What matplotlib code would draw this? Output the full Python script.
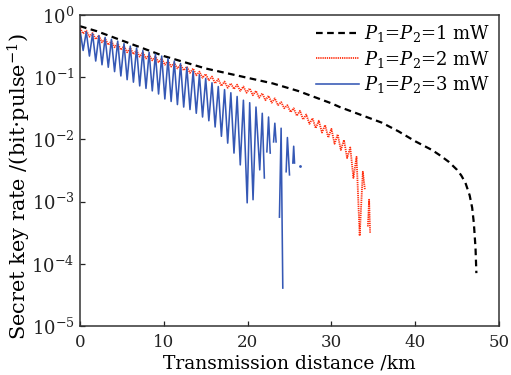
import numpy as np
import matplotlib
matplotlib.use("Agg")
import matplotlib.pyplot as plt
from matplotlib.ticker import LogLocator, LogFormatterMathtext, NullLocator

# ---------------- data (log10 of secret key rate) ----------------
black_km = [0, 1, 2, 3, 4, 5, 6, 7, 8, 9, 10, 11, 12, 13, 14, 15, 16, 17, 18, 19, 20,
            21, 22, 23, 24, 25, 26, 27, 28, 29, 30, 31, 32, 33, 34, 35, 36, 37, 38, 39,
            40, 41, 42, 43, 44, 45, 45.5, 46, 46.5, 46.8, 47.0, 47.2, 47.3]
black_log = [-0.18, -0.22, -0.26, -0.31, -0.36, -0.41, -0.46, -0.51, -0.56, -0.61, -0.66,
             -0.70, -0.74, -0.78, -0.82, -0.86, -0.89, -0.92, -0.95, -0.98, -1.01,
             -1.04, -1.07, -1.10, -1.14, -1.18, -1.22, -1.27, -1.32, -1.37, -1.42,
             -1.48, -1.53, -1.58, -1.63, -1.68, -1.73, -1.80, -1.87, -1.95, -2.03,
             -2.10, -2.17, -2.26, -2.36, -2.49, -2.58, -2.70, -2.90, -3.10, -3.35,
             -3.75, -4.15]

# red (P=2 mW): oscillation peaks and troughs
red_peak_km = [0.0, 0.75, 1.5, 2.25, 3.0, 3.75, 4.5, 5.25, 6.0, 6.75, 7.5, 8.25, 9.0,
               9.75, 10.5, 11.25, 12.0, 12.75, 13.5, 14.25, 15.0, 15.75, 16.5, 17.25,
               18.0, 18.75, 19.5, 20.25, 21.0, 21.75, 22.5, 23.25, 24.0, 24.75, 25.5,
               26.25, 27.0, 27.75, 28.5, 29.25, 30.0, 30.75, 31.5, 32.25, 33.0, 33.75]
red_peak_log = [-0.21, -0.25, -0.29, -0.33, -0.38, -0.42, -0.46, -0.50, -0.53, -0.57,
                -0.60, -0.64, -0.67, -0.70, -0.74, -0.77, -0.80, -0.83, -0.86, -0.91,
                -0.95, -0.99, -1.03, -1.07, -1.10, -1.12, -1.15, -1.18, -1.22, -1.26,
                -1.30, -1.34, -1.40, -1.45, -1.50, -1.54, -1.60, -1.66, -1.70, -1.77,
                -1.83, -1.92, -2.01, -2.13, -2.28, -2.52]
red_trough_km = [0.375, 1.125, 1.875, 2.625, 3.375, 4.125, 4.875, 5.625, 6.375, 7.125,
                 7.875, 8.625, 9.375, 10.125, 10.875, 11.625, 12.375, 13.125, 13.875,
                 14.625, 15.375, 16.125, 16.875, 17.625, 18.375, 19.125, 19.875, 20.625,
                 21.375, 22.125, 22.875, 23.625, 24.375, 25.125, 25.875, 26.625, 27.375,
                 28.125, 28.875, 29.625, 30.375, 31.125, 31.875, 32.625, 33.375]
red_trough_log = [-0.30, -0.35, -0.39, -0.44, -0.48, -0.52, -0.56, -0.60, -0.63, -0.67,
                  -0.70, -0.73, -0.76, -0.80, -0.83, -0.86, -0.89, -0.93, -0.97, -1.01,
                  -1.05, -1.10, -1.14, -1.17, -1.19, -1.22, -1.25, -1.29, -1.33, -1.37,
                  -1.41, -1.45, -1.50, -1.56, -1.62, -1.68, -1.75, -1.82, -1.89, -1.97,
                  -2.07, -2.17, -2.30, -2.62, -3.55]
# red tail: last falling edge, gap, isolated arch (nan = rate not positive)
red_tail_km = [34.0, np.nan, 34.35, 34.5, 34.62]
red_tail_log = [-2.81, np.nan, -3.40, -2.97, -3.50]

# blue (P=3 mW): oscillation peaks and troughs
blue_peak_km = [0.0, 0.75, 1.5, 2.25, 3.0, 3.75, 4.5, 5.25, 6.0, 6.75, 7.5, 8.25, 9.0,
                9.75, 10.5, 11.25, 12.0, 12.75, 13.5, 14.25, 15.0, 15.75, 16.5, 17.25,
                18.0, 18.75, 19.5, 20.25, 21.0]
blue_peak_log = [-0.24, -0.27, -0.30, -0.33, -0.36, -0.39, -0.42, -0.46, -0.50, -0.53,
                 -0.57, -0.60, -0.63, -0.66, -0.70, -0.74, -0.78, -0.84, -0.90, -0.96,
                 -1.02, -1.09, -1.15, -1.20, -1.25, -1.31, -1.37, -1.41, -1.48]
blue_trough_km = [0.375, 1.125, 1.875, 2.625, 3.375, 4.125, 4.875, 5.625, 6.375, 7.125,
                  7.875, 8.625, 9.375, 10.125, 10.875, 11.625, 12.375, 13.125, 13.875,
                  14.625, 15.375, 16.125, 16.875, 17.625, 18.375, 19.125, 19.95, 20.65,
                  21.45]
blue_trough_log = [-0.57, -0.66, -0.74, -0.80, -0.84, -0.91, -0.98, -1.04, -1.08, -1.14,
                   -1.18, -1.22, -1.27, -1.35, -1.39, -1.44, -1.48, -1.52, -1.58, -1.64,
                   -1.70, -1.80, -1.95, -2.06, -2.22, -2.41, -3.02, -2.97, -2.49]
# blue tail: separate arches (nan = rate not positive)
blue_tail_km = [21.75, 22.0, np.nan, 22.3, 22.5, 22.7, np.nan, 23.1, 23.25, 23.4, np.nan,
                23.8, 24.0, 24.2, np.nan, 24.6, 24.75, 25.0, np.nan, 25.4, 25.5, 25.6]
blue_tail_log = [-1.58, -2.62, np.nan, -2.20, -1.64, -2.22, np.nan, -2.04, -1.74, -2.04,
                 np.nan, -3.25, -1.82, -4.39, np.nan, -2.52, -1.97, -2.57, np.nan,
                 -2.38, -2.11, -2.38]
blue_dot_km = [26.2]
blue_dot_log = [-2.43]

labels = [r'$P_1$=$P_2$=1 mW', r'$P_1$=$P_2$=2 mW', r'$P_1$=$P_2$=3 mW']
xticks = [0, 10, 20, 30, 40, 50]


def interleave(pk, pv, tk, tv):
    xs, ys = [], []
    for i in range(len(pk)):
        xs.append(pk[i]); ys.append(pv[i])
        if i < len(tk):
            xs.append(tk[i]); ys.append(tv[i])
    return xs, ys


plt.rcParams['font.family'] = ['DejaVu Serif']
plt.rcParams['mathtext.fontset'] = 'dejavuserif'

fig = plt.figure(figsize=(5.11, 3.75), dpi=100)
ax = fig.add_axes([80 / 511, 49 / 375, 419 / 511, 311 / 375])

bx, by = interleave(blue_peak_km, blue_peak_log, blue_trough_km, blue_trough_log)
bx += blue_tail_km
by += blue_tail_log
rx, ry = interleave(red_peak_km, red_peak_log, red_trough_km, red_trough_log)
rx += red_tail_km
ry += red_tail_log

pw = lambda a: np.power(10.0, np.array(a, dtype=float))

ax.plot(black_km, pw(black_log), color='black', ls=(0, (3.0, 2.0)), lw=1.6, label=labels[0])
ax.plot(rx, pw(ry), color='#ff3010', ls=(0, (0.7, 0.5)), lw=1.3, label=labels[1])
ax.plot(bx, pw(by), color='#3558b5', ls='-', lw=1.15, label=labels[2])
ax.plot(blue_dot_km, pw(blue_dot_log), color='#3558b5', ls='none', marker='.', ms=2)

ax.set_yscale('log')
ax.set_xlim(0, 50)
ax.set_ylim(1e-5, 1)
ax.set_xticks(xticks)
ax.yaxis.set_major_locator(LogLocator(base=10, numticks=10))
ax.yaxis.set_minor_locator(NullLocator())
ax.yaxis.set_major_formatter(LogFormatterMathtext())
ax.tick_params(direction='in', length=3.5, width=0.9, labelsize=13, pad=4, colors='#222222')
ax.tick_params(axis='x', pad=6, labelsize=12)
for s in ax.spines.values():
    s.set_color('#333333')
    s.set_linewidth(1.1)

ax.set_xlabel('Transmission distance /km', fontsize=13.5, labelpad=2)
ax.set_ylabel(r'Secret key rate /(bit$\cdot$pulse$^{-1}$)', fontsize=15)
ax.yaxis.set_label_coords(-0.113, 0.45)

leg = ax.legend(loc='upper right', frameon=False, fontsize=13, handlelength=2.4,
                handletextpad=0.3, labelspacing=0.25, borderaxespad=0.15, borderpad=0.3)

fig.savefig('out.png', dpi=100)
